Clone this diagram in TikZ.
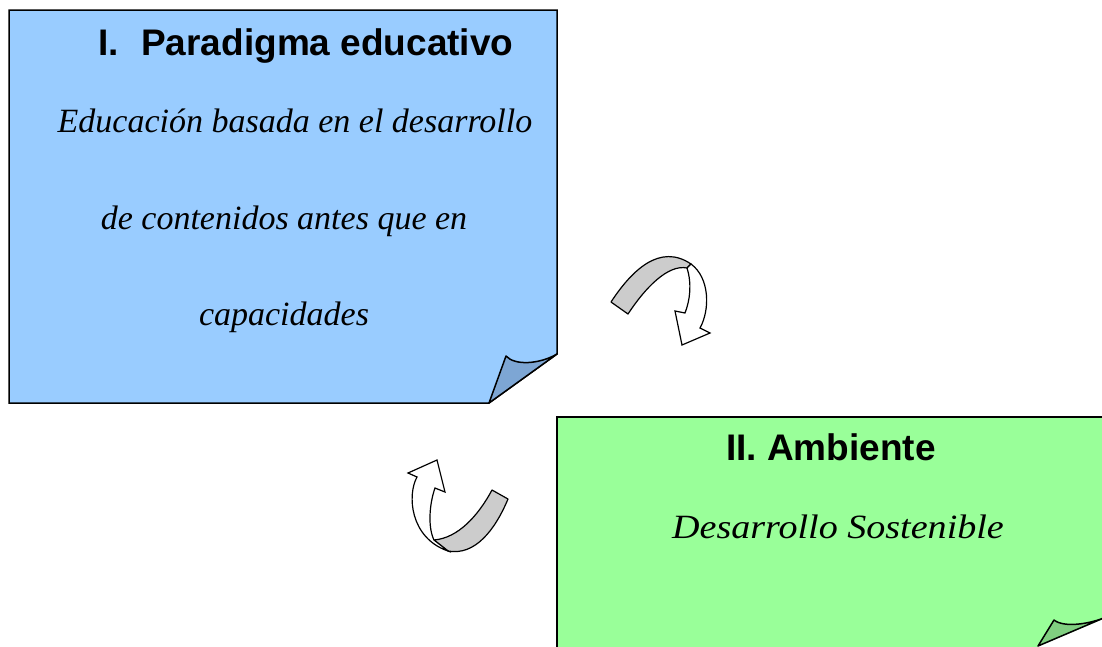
\documentclass[tikz,border=0pt]{standalone}
\usepackage{fontspec}
\newfontfamily\titlefont{Liberation Sans}
\newfontfamily\handfont{Liberation Serif}
\definecolor{noteblue}{HTML}{99CCFF}
\definecolor{foldblue}{HTML}{7DA6D4}
\definecolor{notegreen}{HTML}{99FF99}
\definecolor{foldgreen}{HTML}{80CF80}
\definecolor{bandgray}{HTML}{CCCCCC}
\tikzset{
  notebox/.style={draw=black, line width=1.5pt, line join=miter},
  foldbox/.style={draw=black, line width=1.5pt, line join=round},
  band/.style={draw=black, fill=bandgray, line width=1.2pt, line join=round},
  arrowbody/.style={draw=black, fill=white, line width=1.2pt, line join=miter},
  titletext/.style={anchor=base, inner sep=0pt, font=\titlefont\bfseries\fontsize{37}{40}\selectfont},
  handtext/.style={anchor=base, inner sep=0pt, font=\handfont\itshape\fontsize{34}{37}\selectfont}
}
\begin{document}
\begin{tikzpicture}[x=1pt,y=-1pt]
\useasboundingbox (0,0) rectangle (1102,646);
\fill[white] (0,0) rectangle (1102,646);
% blue note
\path[notebox, fill=noteblue] (9,10) -- (557,10) -- (557,354) -- (489,403) -- (9,403) -- cycle;
\path[foldbox, fill=foldblue] (489,403) -- (506,356) .. controls (515,366) and (540,364) .. (557,354) -- cycle;
\node[titletext] (t1) at (306,55) {I.\hspace{0.6em}Paradigma educativo};
\node[handtext] (b1) at (295,132) {Educación basada en el desarrollo};
\node[handtext] (b2) at (284,229) {de contenidos antes que en};
\node[handtext] (b3) at (284,325) {capacidades};
% green note
\begin{scope}
\clip (0,0) rectangle (1102,646);
\path[fill=notegreen] (557,417) -- (1110,417) -- (1110,616) -- (1030,650) -- (557,650) -- cycle;
\draw[black, line width=1.5pt] (557,650) -- (557,417) -- (1110,417);
\path[foldbox, fill=foldgreen] (1038,646) -- (1054,620) .. controls (1064,628) and (1090,624) .. (1106,617) -- (1038,646) -- cycle;
\end{scope}
\node[titletext] (t2) at (831,460) {II. Ambiente};
\node[handtext, xscale=1.12] (b4) at (838,538) {Desarrollo Sostenible};
% upper curved arrow
\path[band] (611,302) .. controls (632,270) and (660,243) .. (691,264)
  -- (687,268) .. controls (668,264) and (645,288) .. (628,314) -- cycle;
\path[arrowbody] (687,268) .. controls (692,284) and (690,300) .. (685,313)
  -- (675,311) -- (682,345) -- (710,333) -- (700,328)
  .. controls (710,310) and (710,278) .. (691,264) -- cycle;
% lower curved arrow
\path[band] (492,490) -- (508,499) .. controls (495,530) and (475,556) .. (448,551)
  -- (434,540) .. controls (458,538) and (478,516) .. (492,490) -- cycle;
\path[arrowbody] (448,551) .. controls (410,538) and (407,495) .. (417,477)
  -- (408,473) -- (437,460) -- (445,492) -- (435,488)
  .. controls (429,505) and (428,528) .. (434,540) -- cycle;
\end{tikzpicture}
\end{document}
